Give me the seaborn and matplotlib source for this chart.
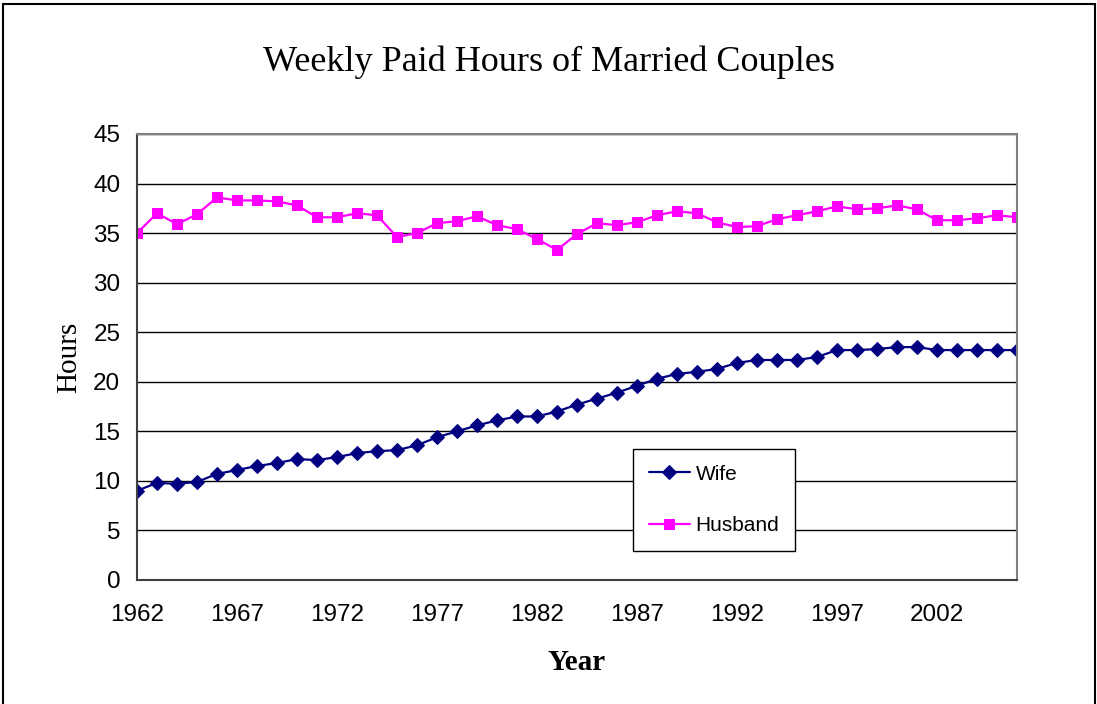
import matplotlib
matplotlib.use("Agg")
import matplotlib.pyplot as plt
from matplotlib.patches import Rectangle
import seaborn as sns
import pandas as pd
import numpy as np

years = list(range(1962, 2007))

wife_hours = [9.0, 9.8, 9.7, 9.9, 10.7, 11.1, 11.5, 11.8, 12.2, 12.1,
              12.4, 12.8, 13.0, 13.1, 13.6, 14.4, 15.0, 15.6, 16.1, 16.5,
              16.5, 17.0, 17.7, 18.3, 18.9, 19.6, 20.3, 20.8, 21.0, 21.3,
              21.9, 22.2, 22.2, 22.2, 22.5, 23.2, 23.2, 23.3, 23.5, 23.5,
              23.2, 23.2, 23.2, 23.2, 23.2]

husband_hours = [35.0, 37.0, 35.9, 36.9, 38.6, 38.3, 38.3, 38.2, 37.8, 36.6,
                 36.6, 37.0, 36.8, 34.6, 35.0, 36.0, 36.2, 36.7, 35.8, 35.4,
                 34.4, 33.3, 34.9, 36.0, 35.8, 36.1, 36.8, 37.2, 37.0, 36.1,
                 35.6, 35.7, 36.4, 36.8, 37.2, 37.7, 37.4, 37.5, 37.8, 37.4,
                 36.3, 36.3, 36.5, 36.8, 36.6]

x_ticks = list(range(1962, 2003, 5))
y_ticks = list(range(0, 50, 5))

df = pd.DataFrame({"Year": years, "Wife": wife_hours, "Husband": husband_hours})

sns.set_style("white")
plt.rcParams["font.family"] = ["Liberation Sans", "DejaVu Sans"]
plt.rcParams["text.color"] = "black"
plt.rcParams["axes.labelcolor"] = "black"
plt.rcParams["xtick.color"] = "black"
plt.rcParams["ytick.color"] = "black"

fig = plt.figure(figsize=(10.97, 7.04), dpi=100)
ax = fig.add_axes([137 / 1097, 1 - 580 / 704, (1017 - 137) / 1097, (580 - 134) / 704])

sns.lineplot(data=df, x="Year", y="Wife", ax=ax, color="#000080", marker="D",
             markersize=7, markeredgecolor="#000080", linewidth=1.6, label="Wife")
sns.lineplot(data=df, x="Year", y="Husband", ax=ax, color="#FF00FF", marker="s",
             markersize=7.5, markeredgecolor="#FF00FF", linewidth=1.6, label="Husband")

ax.set_xlim(1962, 2006)
ax.set_ylim(0, 45)
ax.set_xticks(x_ticks)
ax.set_yticks(y_ticks)
ax.tick_params(axis="both", direction="out", length=7, width=1, color="#404040",
               labelsize=17.5, labelcolor="black", pad=5)
ax.tick_params(axis="x", pad=10)

ax.yaxis.grid(True, color="black", linewidth=1)
ax.set_axisbelow(True)
for side in ["top", "right"]:
    ax.spines[side].set_color("#808080")
    ax.spines[side].set_linewidth(1.5)
for side in ["left", "bottom"]:
    ax.spines[side].set_color("#404040")
    ax.spines[side].set_linewidth(1.5)

ax.set_xlabel("Year", family="Liberation Serif", fontsize=21, fontweight="bold", labelpad=17)
ax.set_ylabel("Hours", family="Liberation Serif", fontsize=21, labelpad=8)
fig.text(0.5, 1 - 62 / 704, "Weekly Paid Hours of Married Couples",
         family="Liberation Serif", fontsize=26, ha="center", va="center")

leg = ax.legend(loc="upper left", bbox_to_anchor=(633 / 1097, 1 - 449 / 704),
                bbox_transform=fig.transFigure, borderaxespad=0, fontsize=15,
                frameon=True, fancybox=False, labelspacing=1.55, handlelength=2.0,
                borderpad=0.75, handletextpad=0.25)
leg.get_frame().set_edgecolor("black")
leg.get_frame().set_linewidth(1)
leg.get_frame().set_alpha(1)

fig.patches.append(Rectangle((2.5 / 1097, -0.02), (1095 - 2.5) / 1097, 1.02 - 3.5 / 704,
                             transform=fig.transFigure, fill=False,
                             edgecolor="black", linewidth=1.5))

fig.savefig("out.png", dpi=100)
